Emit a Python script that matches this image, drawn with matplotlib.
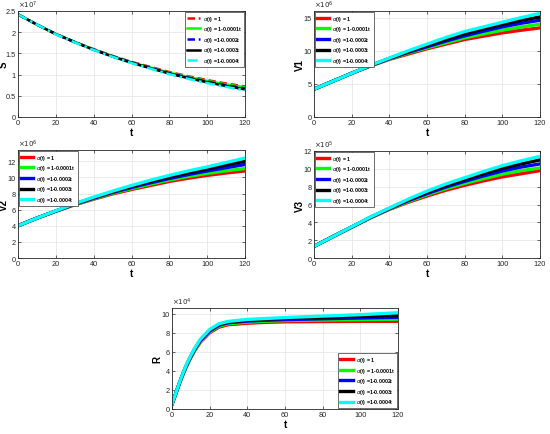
import matplotlib
matplotlib.use("Agg")
import matplotlib.pyplot as plt

plt.rcParams['font.family'] = ['Liberation Sans', 'DejaVu Sans']

# ---------------- data ----------------
t = [0, 10, 20, 30, 40, 50, 60, 70, 80, 90, 100, 110, 120]
labels = [r"$\alpha$(t) = 1", r"$\alpha$(t) = 1-0.0001t", r"$\alpha$(t) =1-0.0002t",
          r"$\alpha$(t) =1-0.0003t", r"$\alpha$(t) =1-0.0004t"]
colors = ["#ff0000", "#00ff00", "#0000ff", "#000000", "#00ffff"]

# S (x1e7)
S_a1 = [2.42, 2.18, 1.96, 1.77, 1.60, 1.44, 1.30, 1.18, 1.06, 0.96, 0.87, 0.79, 0.72]
S_a2 = [2.42, 2.18, 1.96, 1.77, 1.595, 1.435, 1.29, 1.165, 1.045, 0.945, 0.85, 0.77, 0.70]
S_a3 = [2.42, 2.18, 1.955, 1.765, 1.59, 1.43, 1.285, 1.16, 1.035, 0.93, 0.835, 0.75, 0.675]
S_a4 = [2.42, 2.18, 1.955, 1.765, 1.585, 1.425, 1.28, 1.15, 1.025, 0.915, 0.82, 0.73, 0.65]
S_a5 = [2.42, 2.18, 1.95, 1.76, 1.58, 1.42, 1.27, 1.14, 1.01, 0.90, 0.80, 0.71, 0.63]

# V1 (x1e6)
V1_a1 = [4.2, 5.4, 6.6, 7.7, 8.7, 9.5, 10.3, 11.0, 11.7, 12.2, 12.7, 13.1, 13.45]
V1_a2 = [4.2, 5.4, 6.6, 7.72, 8.75, 9.65, 10.45, 11.2, 11.95, 12.55, 13.1, 13.6, 14.0]
V1_a3 = [4.2, 5.4, 6.6, 7.74, 8.8, 9.75, 10.6, 11.45, 12.25, 12.95, 13.6, 14.15, 14.6]
V1_a4 = [4.2, 5.4, 6.6, 7.77, 8.85, 9.85, 10.8, 11.7, 12.55, 13.3, 13.95, 14.6, 15.1]
V1_a5 = [4.2, 5.4, 6.6, 7.8, 8.9, 10.0, 11.0, 12.0, 12.9, 13.6, 14.3, 15.0, 15.65]

# V2 (x1e6)
V2_a1 = [4.0, 4.95, 5.8, 6.6, 7.3, 7.95, 8.5, 9.0, 9.5, 9.9, 10.25, 10.55, 10.8]
V2_a2 = [4.0, 4.95, 5.81, 6.63, 7.36, 8.04, 8.62, 9.17, 9.68, 10.12, 10.5, 10.82, 11.1]
V2_a3 = [4.0, 4.95, 5.82, 6.67, 7.42, 8.13, 8.75, 9.33, 9.86, 10.35, 10.8, 11.2, 11.6]
V2_a4 = [4.0, 4.95, 5.83, 6.71, 7.48, 8.21, 8.88, 9.5, 10.05, 10.58, 11.05, 11.55, 12.0]
V2_a5 = [4.0, 4.95, 5.85, 6.75, 7.55, 8.3, 9.0, 9.65, 10.25, 10.8, 11.3, 11.85, 12.4]

# V3 (x1e5)
V3_a1 = [1.3, 2.4, 3.45, 4.5, 5.45, 6.25, 6.95, 7.6, 8.15, 8.65, 9.1, 9.45, 9.8]
V3_a2 = [1.3, 2.4, 3.46, 4.52, 5.49, 6.33, 7.1, 7.78, 8.37, 8.9, 9.4, 9.8, 10.1]
V3_a3 = [1.3, 2.4, 3.47, 4.55, 5.52, 6.42, 7.22, 7.95, 8.6, 9.2, 9.75, 10.2, 10.55]
V3_a4 = [1.3, 2.4, 3.48, 4.57, 5.56, 6.5, 7.36, 8.12, 8.8, 9.45, 10.05, 10.55, 11.0]
V3_a5 = [1.3, 2.4, 3.5, 4.6, 5.6, 6.6, 7.5, 8.3, 9.0, 9.7, 10.35, 10.9, 11.4]

# R (x1e4)
tR = [0, 2, 4, 6, 8, 10, 12, 15, 20, 25, 30, 40, 50, 60, 80, 100, 120]
R_a1 = [0.5, 1.6, 2.7, 3.7, 4.6, 5.4, 6.1, 7.0, 8.0, 8.6, 8.85, 9.0, 9.1, 9.15, 9.18, 9.2, 9.2]
R_a2 = [0.5, 1.61, 2.72, 3.74, 4.65, 5.45, 6.16, 7.07, 8.08, 8.7, 8.95, 9.12, 9.22, 9.28, 9.34, 9.38, 9.42]
R_a3 = [0.5, 1.62, 2.75, 3.78, 4.7, 5.5, 6.23, 7.15, 8.17, 8.8, 9.05, 9.22, 9.32, 9.38, 9.47, 9.55, 9.62]
R_a4 = [0.5, 1.63, 2.77, 3.81, 4.75, 5.55, 6.29, 7.22, 8.26, 8.88, 9.12, 9.3, 9.42, 9.5, 9.62, 9.72, 9.82]
R_a5 = [0.5, 1.65, 2.8, 3.85, 4.8, 5.6, 6.35, 7.3, 8.35, 8.95, 9.2, 9.4, 9.5, 9.6, 9.75, 9.9, 10.1]

# ---------------- figure ----------------
W, H = 550, 435
fig = plt.figure(figsize=(W / 100, H / 100), dpi=100)


def make_ax(l, r, top, bot):
    return fig.add_axes([l / W, 1 - bot / H, (r - l) / W, (bot - top) / H])


def style(ax, ylabel, ylim, yticks, exp):
    ax.set_xlim(0, 120)
    ax.set_ylim(*ylim)
    ax.set_xticks([0, 20, 40, 60, 80, 100, 120])
    ax.set_yticks(yticks)
    ax.set_yticklabels([("%g" % v) for v in yticks])
    ax.grid(True, color="#e6e6e6", linewidth=0.6)
    ax.set_axisbelow(True)
    ax.tick_params(direction="in", labelsize=5.3, length=2.5, width=0.5,
                   top=True, right=True, pad=1.5, colors="#262626")
    for s in ax.spines.values():
        s.set_linewidth(0.6)
        s.set_color("#262626")
    ax.set_xlabel("t", fontsize=7, fontweight="bold", labelpad=1)
    ax.set_ylabel(ylabel, fontsize=7, fontweight="bold")
    wpx = ax.get_position().width * W
    ax.yaxis.set_label_coords(-9.5 / wpx, 0.5)
    ax.text(0.0, 1.01, r"$\times10^{%d}$" % exp, transform=ax.transAxes,
            fontsize=5, ha="left", va="bottom", color="#262626")


def legend(ax, loc):
    lg = ax.legend(loc=loc, prop={'weight': 'bold', 'size': 3.8},
                   handlelength=2.4, handletextpad=0.6, labelspacing=0.3,
                   borderpad=0.4, borderaxespad=0.1, fancybox=False,
                   framealpha=1, edgecolor="#333333")
    lg.get_frame().set_linewidth(0.5)


# S
ax1 = make_ax(18, 245, 12, 118)
Ss = [S_a1, S_a2, S_a3, S_a4, S_a5]
ls_S = [(0, (3, 1.5)), "-", (0, (3, 1.5)), "-", (0, (4, 1.5, 1, 1.5))]
for y, c, lab, ls in zip(Ss, colors, labels, ls_S):
    ax1.plot(t, y, color=c, lw=1.8, ls=ls, label=lab)
style(ax1, "S", (0, 2.5), [0, 0.5, 1, 1.5, 2, 2.5], 7)
legend(ax1, "upper right")

# V1
ax2 = make_ax(314, 540, 12, 118)
for y, c, lab in zip([V1_a1, V1_a2, V1_a3, V1_a4, V1_a5], colors, labels):
    ax2.plot(t, y, color=c, lw=2.4, label=lab)
style(ax2, "V1", (0, 16), [0, 5, 10, 15], 6)
legend(ax2, "upper left")

# V2
ax3 = make_ax(18, 245, 151, 259)
for y, c, lab in zip([V2_a1, V2_a2, V2_a3, V2_a4, V2_a5], colors, labels):
    ax3.plot(t, y, color=c, lw=2.4, label=lab)
style(ax3, "V2", (0, 13.4), [0, 2, 4, 6, 8, 10, 12], 6)
legend(ax3, "upper left")

# V3
ax4 = make_ax(314, 540, 152, 259)
for y, c, lab in zip([V3_a1, V3_a2, V3_a3, V3_a4, V3_a5], colors, labels):
    ax4.plot(t, y, color=c, lw=2.4, label=lab)
style(ax4, "V3", (0, 12), [0, 2, 4, 6, 8, 10, 12], 5)
legend(ax4, "upper left")

# R
ax5 = make_ax(172, 398, 309, 410)
for y, c, lab in zip([R_a1, R_a2, R_a3, R_a4, R_a5], colors, labels):
    ax5.plot(tR, y, color=c, lw=2.4, label=lab)
style(ax5, "R", (0, 10.6), [0, 2, 4, 6, 8, 10], 4)
legend(ax5, "lower right")

fig.savefig("out.png", dpi=100)
